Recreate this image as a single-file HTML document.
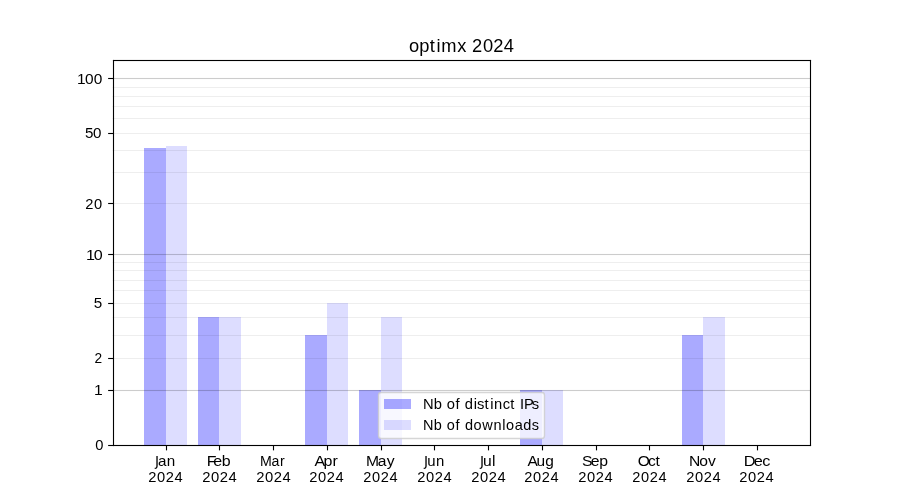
<!DOCTYPE html>
<html><head><meta charset="utf-8"><title>optimx 2024</title>
<style>
html,body{margin:0;padding:0;background:#fff;}
body{width:900px;height:500px;overflow:hidden;}
svg{display:block;will-change:transform;}
text{font-family:"Liberation Sans",sans-serif;fill:#000;}
</style></head><body>
<svg width="900" height="500" viewBox="0 0 900 500">
<rect x="0" y="0" width="900" height="500" fill="#ffffff"/>
<g id="bars">
<rect x="144" y="148" width="22" height="297" fill="rgba(0,0,255,0.3333)"/>
<rect x="198" y="317" width="21" height="128" fill="rgba(0,0,255,0.3333)"/>
<rect x="305" y="335" width="22" height="110" fill="rgba(0,0,255,0.3333)"/>
<rect x="359" y="390" width="22" height="55" fill="rgba(0,0,255,0.3333)"/>
<rect x="520" y="390" width="22" height="55" fill="rgba(0,0,255,0.3333)"/>
<rect x="682" y="335" width="21" height="110" fill="rgba(0,0,255,0.3333)"/>
<rect x="166" y="146" width="21" height="299" fill="rgba(0,0,255,0.1333)"/>
<rect x="219" y="317" width="22" height="128" fill="rgba(0,0,255,0.1333)"/>
<rect x="327" y="303" width="21" height="142" fill="rgba(0,0,255,0.1333)"/>
<rect x="381" y="317" width="21" height="128" fill="rgba(0,0,255,0.1333)"/>
<rect x="542" y="390" width="21" height="55" fill="rgba(0,0,255,0.1333)"/>
<rect x="703" y="317" width="22" height="128" fill="rgba(0,0,255,0.1333)"/>
</g>
<g id="grid" fill="#000">
<rect x="112.5" y="389.9445" width="697.5" height="1.1111" fill-opacity="0.2"/>
<rect x="112.5" y="357.9445" width="697.5" height="1.1111" fill-opacity="0.065"/>
<rect x="112.5" y="334.9445" width="697.5" height="1.1111" fill-opacity="0.065"/>
<rect x="112.5" y="316.9445" width="697.5" height="1.1111" fill-opacity="0.065"/>
<rect x="112.5" y="302.9445" width="697.5" height="1.1111" fill-opacity="0.065"/>
<rect x="112.5" y="289.9445" width="697.5" height="1.1111" fill-opacity="0.065"/>
<rect x="112.5" y="279.9445" width="697.5" height="1.1111" fill-opacity="0.065"/>
<rect x="112.5" y="269.9445" width="697.5" height="1.1111" fill-opacity="0.065"/>
<rect x="112.5" y="261.9445" width="697.5" height="1.1111" fill-opacity="0.065"/>
<rect x="112.5" y="253.9444" width="697.5" height="1.1111" fill-opacity="0.2"/>
<rect x="112.5" y="202.9444" width="697.5" height="1.1111" fill-opacity="0.065"/>
<rect x="112.5" y="171.9444" width="697.5" height="1.1111" fill-opacity="0.065"/>
<rect x="112.5" y="149.9444" width="697.5" height="1.1111" fill-opacity="0.065"/>
<rect x="112.5" y="132.9444" width="697.5" height="1.1111" fill-opacity="0.065"/>
<rect x="112.5" y="117.9445" width="697.5" height="1.1111" fill-opacity="0.065"/>
<rect x="112.5" y="105.9445" width="697.5" height="1.1111" fill-opacity="0.065"/>
<rect x="112.5" y="95.9445" width="697.5" height="1.1111" fill-opacity="0.065"/>
<rect x="112.5" y="86.9445" width="697.5" height="1.1111" fill-opacity="0.065"/>
<rect x="112.5" y="77.9445" width="697.5" height="1.1111" fill-opacity="0.2"/>
</g>
<g id="ticks" fill="#000">
<rect x="165.9444" y="445.5" width="1.1111" height="4.86"/>
<rect x="218.9444" y="445.5" width="1.1111" height="4.86"/>
<rect x="272.9445" y="445.5" width="1.1111" height="4.86"/>
<rect x="326.9445" y="445.5" width="1.1111" height="4.86"/>
<rect x="380.9445" y="445.5" width="1.1111" height="4.86"/>
<rect x="433.9445" y="445.5" width="1.1111" height="4.86"/>
<rect x="487.9445" y="445.5" width="1.1111" height="4.86"/>
<rect x="541.9444" y="445.5" width="1.1111" height="4.86"/>
<rect x="595.9444" y="445.5" width="1.1111" height="4.86"/>
<rect x="648.9444" y="445.5" width="1.1111" height="4.86"/>
<rect x="702.9444" y="445.5" width="1.1111" height="4.86"/>
<rect x="756.9444" y="445.5" width="1.1111" height="4.86"/>
<rect x="108.14" y="444.9445" width="5.36" height="1.1111"/>
<rect x="108.14" y="389.9445" width="5.36" height="1.1111"/>
<rect x="108.14" y="357.9445" width="5.36" height="1.1111"/>
<rect x="108.14" y="302.9445" width="5.36" height="1.1111"/>
<rect x="108.14" y="253.9444" width="5.36" height="1.1111"/>
<rect x="108.14" y="202.9444" width="5.36" height="1.1111"/>
<rect x="108.14" y="132.9444" width="5.36" height="1.1111"/>
<rect x="108.14" y="77.9445" width="5.36" height="1.1111"/>
</g>
<g id="spines" fill="#000">
<rect x="112.9445" y="59.9445" width="1.1111" height="386.1111"/>
<rect x="809.9444" y="59.9445" width="1.1111" height="386.1111"/>
<rect x="112.9445" y="59.9445" width="698.1111" height="1.1111"/>
<rect x="112.9445" y="444.9445" width="698.1111" height="1.1111"/>
</g>
<g id="legend">
<path d="M381.278,392.5 L541.722,392.5 Q544.5,392.5 544.5,395.278 L544.5,435.722 Q544.5,438.5 541.722,438.5 L381.278,438.5 Q378.5,438.5 378.5,435.722 L378.5,395.278 Q378.5,392.5 381.278,392.5 Z" fill="#fff" fill-opacity="0.8" stroke="#cccccc" stroke-opacity="0.8" stroke-width="1.389" stroke-linejoin="miter"/>
<rect x="384" y="399" width="27" height="10" fill="rgba(0,0,255,0.3333)"/>
<rect x="384" y="420" width="27" height="10" fill="rgba(0,0,255,0.1333)"/>
</g>
<g id="labels" style="filter:grayscale(1)">
<text id="t_title" transform="translate(408.75,51.80) scale(1.0175,1)" x="0.20 10.21 20.74 27.31 31.87 47.70 57.15 62.06 72.88 83.10 93.33" y="0" font-size="18.000">optimx 2024</text>
<text id="t_y0" transform="translate(95.02,450.00) scale(1.0175,1)" x="0.32" y="0" font-size="14.450">0</text>
<text id="t_y1" transform="translate(94.06,395.00) scale(1.0850,1)" x="0.05" y="0" font-size="14.450">1</text>
<text id="t_y2" transform="translate(93.88,363.00) scale(0.9500,1)" x="0.63" y="0" font-size="14.450">2</text>
<text id="t_y5" transform="translate(93.58,308.00) scale(1.0550,1)" x="0.17" y="0" font-size="14.450">5</text>
<text id="t_y10" transform="translate(85.31,260.00) scale(1.1150,1)" x="0.66 7.51" y="0" font-size="14.450">10</text>
<text id="t_y20" transform="translate(84.90,209.00) scale(1.0175,1)" x="0.32 9.01" y="0" font-size="14.450">20</text>
<text id="t_y50" transform="translate(84.03,138.00) scale(1.0400,1)" x="0.97 8.70" y="0" font-size="14.550">50</text>
<text id="t_y100" transform="translate(76.08,84.00) scale(1.0700,1)" x="0.86 8.37 16.63" y="0" font-size="14.450">100</text>
<text id="t_mJan" transform="translate(158.04,466.00) scale(1.0475,1)" x="0.02 8.28" y="0" font-size="14.550">an</text>
<text id="t_yrJan" transform="translate(147.74,482.00) scale(1.0175,1)" x="0.52 9.01 17.69 26.38" y="0" font-size="14.450">2024</text>
<text id="t_mFeb" transform="translate(206.32,466.00) scale(1.1075,1)" x="0.46 6.37 13.84" y="0" font-size="14.450">Feb</text>
<text id="t_yrFeb" transform="translate(201.81,482.00) scale(1.0250,1)" x="0.49 8.91 17.54 26.16" y="0" font-size="14.450">2024</text>
<text id="t_mMar" transform="translate(259.32,466.00) scale(0.9800,1)" x="0.71 12.55 21.01" y="0" font-size="14.450">Mar</text>
<text id="t_yrMar" transform="translate(255.81,482.00) scale(1.0250,1)" x="0.49 8.91 17.54 26.16" y="0" font-size="14.450">2024</text>
<text id="t_mApr" transform="translate(314.29,466.00) scale(1.1075,1)" x="0.19 8.36 16.35" y="0" font-size="14.450">Apr</text>
<text id="t_yrApr" transform="translate(308.78,482.00) scale(1.0175,1)" x="0.52 9.01 17.69 26.38" y="0" font-size="14.450">2024</text>
<text id="t_mMay" transform="translate(366.44,466.00) scale(1.0850,1)" x="-0.50 10.40 18.70" y="0" font-size="14.450">May</text>
<text id="t_yrMay" transform="translate(362.77,482.00) scale(1.0100,1)" x="0.36 9.11 17.86 26.60" y="0" font-size="14.450">2024</text>
<text id="t_mJun" transform="translate(427.02,466.00) scale(1.0400,1)" x="0.24 8.71" y="0" font-size="14.350">un</text>
<text id="t_yrJun" transform="translate(416.75,482.00) scale(1.0175,1)" x="0.52 9.01 17.69 26.38" y="0" font-size="14.450">2024</text>
<text id="t_mJul" transform="translate(483.09,466.00) scale(1.0850,1)" x="0.04 8.29" y="0" font-size="14.450">ul</text>
<text id="t_yrJul" transform="translate(470.74,482.00) scale(1.0175,1)" x="0.52 9.01 17.69 26.38" y="0" font-size="14.450">2024</text>
<text id="t_mAug" transform="translate(527.03,466.00) scale(1.0700,1)" x="0.37 8.97 17.02" y="0" font-size="14.450">Aug</text>
<text id="t_yrAug" transform="translate(523.77,482.30) scale(1.0100,1)" x="0.36 9.11 17.86 26.60" y="0" font-size="14.450">2024</text>
<text id="t_mSep" transform="translate(582.26,466.00) scale(1.1000,1)" x="-0.23 7.73 15.44" y="0" font-size="14.350">Sep</text>
<text id="t_yrSep" transform="translate(577.78,482.00) scale(1.0175,1)" x="0.52 9.01 17.69 26.38" y="0" font-size="14.450">2024</text>
<text id="t_mOct" transform="translate(637.24,466.00) scale(1.0775,1)" x="0.57 10.08 17.01" y="0" font-size="14.450">Oct</text>
<text id="t_yrOct" transform="translate(631.77,482.00) scale(1.0100,1)" x="0.36 9.11 17.86 26.60" y="0" font-size="14.450">2024</text>
<text id="t_mNov" transform="translate(689.33,466.00) scale(1.0850,1)" x="-0.43 9.10 17.21" y="0" font-size="14.450">Nov</text>
<text id="t_yrNov" transform="translate(685.78,482.00) scale(1.0175,1)" x="0.52 9.01 17.69 26.38" y="0" font-size="14.450">2024</text>
<text id="t_mDec" transform="translate(743.44,466.00) scale(1.1300,1)" x="0.22 9.23 16.62" y="0" font-size="14.450">Dec</text>
<text id="t_yrDec" transform="translate(738.72,482.00) scale(1.0175,1)" x="0.52 9.01 17.69 26.38" y="0" font-size="14.450">2024</text>
<text id="t_leg1" transform="translate(423.10,409.00) scale(1.0100,1)" x="-0.13 10.59 19.17 23.53 32.19 36.80 41.32 50.23 53.49 60.80 66.41 70.24 78.79 86.29 91.77 95.98 99.91 107.62" y="0" font-size="14.600">Nb of distinct IPs</text>
<text id="t_leg2" transform="translate(423.02,430.00) scale(0.9950,1)" x="-0.05 10.81 19.49 23.95 32.71 37.38 42.20 50.70 59.47 70.81 79.61 83.38 92.13 100.64 109.32" y="0" font-size="14.600">Nb of downloads</text>
<g id="jglyphs" fill="none" stroke="#000" stroke-width="1.320">
<path d="M157.02,456.00 V466.00 Q157.02,468.50 154.72,468.45"/>
<path d="M426.02,456.00 V466.00 Q426.02,468.50 423.72,468.45"/>
<path d="M482.02,456.00 V466.00 Q482.02,468.50 479.72,468.45"/>
</g>
</g>
</svg>
</body></html>
